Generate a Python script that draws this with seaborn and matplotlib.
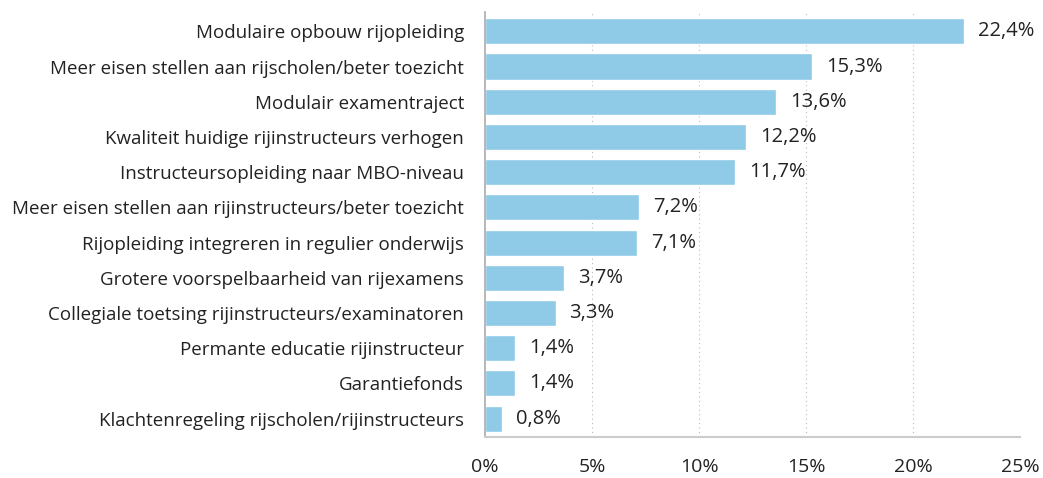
import pandas as pd
import seaborn as sns
import matplotlib.pyplot as plt

# maatregelen en percentages
categories = [
    "Modulaire opbouw rijopleiding",
    "Meer eisen stellen aan rijscholen/beter toezicht",
    "Modulair examentraject",
    "Kwaliteit huidige rijinstructeurs verhogen",
    "Instructeursopleiding naar MBO-niveau",
    "Meer eisen stellen aan rijinstructeurs/beter toezicht",
    "Rijopleiding integreren in regulier onderwijs",
    "Grotere voorspelbaarheid van rijexamens",
    "Collegiale toetsing rijinstructeurs/examinatoren",
    "Permante educatie rijinstructeur",
    "Garantiefonds",
    "Klachtenregeling rijscholen/rijinstructeurs",
]
values = [22.4, 15.3, 13.6, 12.2, 11.7, 7.2, 7.1, 3.7, 3.3, 1.4, 1.4, 0.8]
xticks = [0, 5, 10, 15, 20, 25]

df = pd.DataFrame({"maatregel": categories, "pct": values})

sns.set_style("white")
plt.rcParams['font.family'] = ['Open Sans', 'DejaVu Sans']

fig = plt.figure(figsize=(10.43, 4.78), dpi=100)
ax = fig.add_axes([0.465, 0.086, 0.513, 0.889])

sns.barplot(data=df, x="pct", y="maatregel", color="#8fcae7", saturation=1,
            width=0.74, ax=ax)

ax.set_xlim(0, 25)
ax.set_ylim(11.52, -0.55)
ax.set_xticks(xticks)
ax.set_xticklabels([f"{t}%" for t in xticks])
ax.set_xlabel("")
ax.set_ylabel("")

for x in xticks[1:]:
    ax.axvline(x, color="#bbbbbb", linestyle=(0, (1, 3)), linewidth=0.8, zorder=0)

for i, v in enumerate(values):
    ax.text(v + 0.65, i, f"{v:.1f}%".replace(".", ","), va="center", ha="left",
            fontsize=14.5, color="#222222")

for s in ["top", "right"]:
    ax.spines[s].set_visible(False)
ax.spines["left"].set_color("#aaaaaa")
ax.spines["left"].set_linewidth(1.2)
ax.spines["bottom"].set_color("#cccccc")
ax.spines["bottom"].set_linewidth(1.5)

ax.tick_params(axis="x", length=0, pad=15, labelsize=14, labelcolor="#222222")
ax.tick_params(axis="y", length=0, pad=15, labelsize=13.5, labelcolor="#222222")

fig.savefig("out.png", dpi=100)
